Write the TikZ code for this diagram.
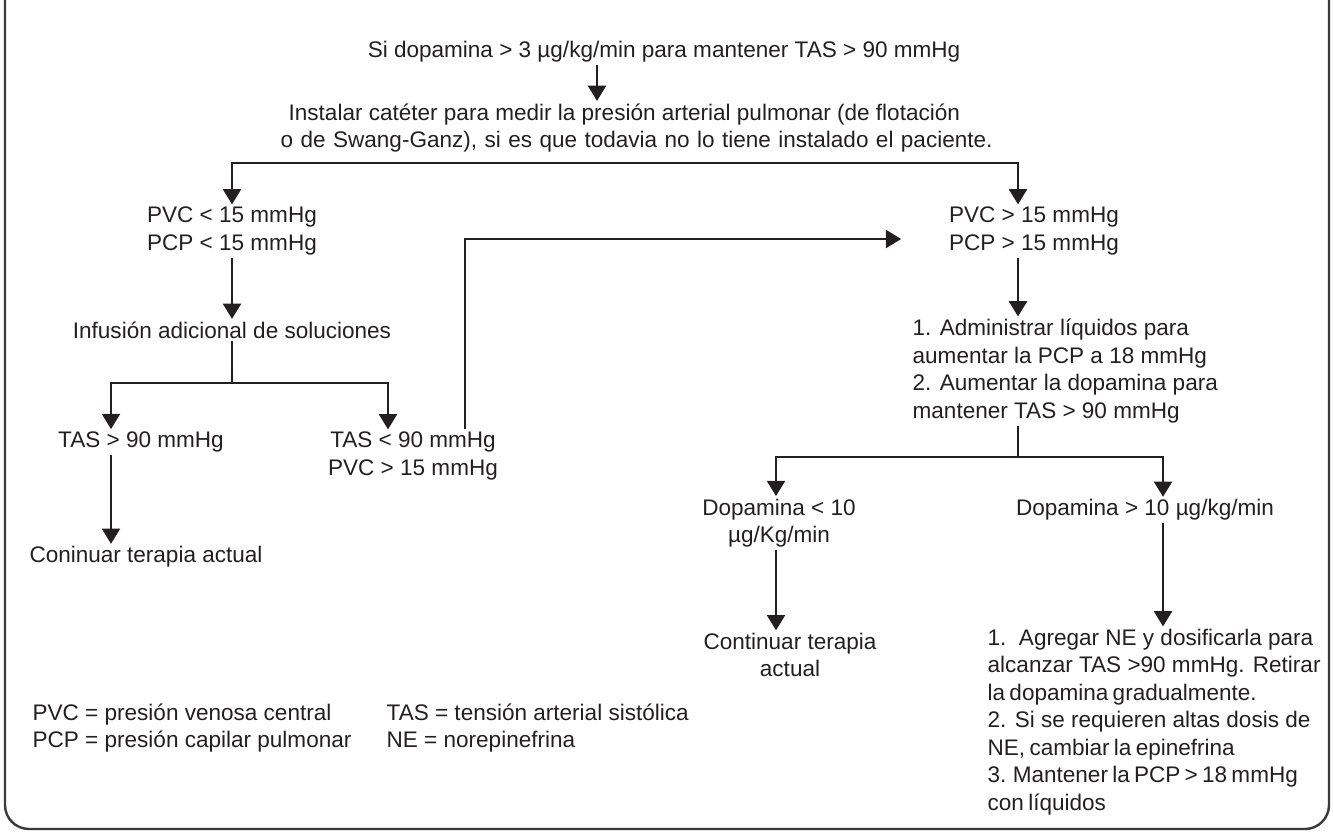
\documentclass[tikz,border=0pt]{standalone}
\usepackage{fontspec}
\setmainfont{Liberation Sans}
\usetikzlibrary{arrows.meta}
\definecolor{ink}{HTML}{231F20}
\definecolor{rimgray}{HTML}{3A3A3A}
% word spacing adjustments for single lines
\newcommand\snug{\spaceskip=0.19em\relax}
\newcommand\roomy{\spaceskip=0.33em\relax}

\begin{document}
\begin{tikzpicture}[x=0.75pt,y=-0.75pt,
  txt/.style={inner sep=0pt,outer sep=2pt,text=ink,font=\fontsize{16.9}{20.6}\selectfont},
  ctr/.style={txt,align=center},
  lft/.style={txt,align=left},
  link/.style={draw=ink,line width=1.9pt,line join=miter},
  arr/.style={link,-{Triangle[width=13.5pt,length=11.5pt]}},
  dbl/.style={link,{Triangle[width=13.5pt,length=11.5pt]}-{Triangle[width=13.5pt,length=11.5pt]}},
  rim/.style={draw=rimgray,line width=1.8pt,rounded corners=18pt}]

\useasboundingbox (0,0) rectangle (1333,833);

% frame, open at the top
\draw[rim] (5,-20) -- (5,829) -- (1329,829) -- (1329,-20);

% ---- text blocks ----
\node[ctr] (top) at (664,52) {Si dopamina > 3 µg/kg/min para mantener TAS > 90 mmHg};
\node[lft,anchor=west] (cat) at (278,128)
  {\hspace*{6pt}Instalar catéter para medir la presión arterial pulmonar (de flotación\\
   {\roomy o de Swang-Ganz), si es que todavia no lo tiene instalado el paciente.}};

\node[ctr] (pvcL) at (232,231) {PVC < 15 mmHg\\PCP < 15 mmHg};
\node[ctr] (pvcR) at (1034,231) {PVC > 15 mmHg\\PCP > 15 mmHg};

\node[ctr] (inf) at (232,330) {Infusión adicional de soluciones};
\node[ctr] (tasA) at (141,442) {TAS > 90 mmHg};
\node[ctr] (conA) at (146,557) {Coninuar terapia actual};
\node[ctr] (tasB) at (413,456) {TAS < 90 mmHg\\PVC > 15 mmHg};

\node[lft,anchor=west] (adm) at (910,371)
  {1. Administrar líquidos para\\aumentar la PCP a 18 mmHg\\2. Aumentar la dopamina para\\mantener TAS > 90 mmHg};

\node[ctr] (dopA) at (779,523) {Dopamina < 10\\µg/Kg/min};
\node[ctr] (dopB) at (1145,510) {Dopamina > 10 µg/kg/min};
\node[ctr] (conB) at (790,655) {Continuar terapia\\actual};

\node[lft,anchor=west] (ne) at (985,722)
  {1.\ \ Agregar NE y dosificarla para\\
   alcanzar TAS >90 mmHg. Retirar\\
   {\snug la dopamina gradualmente.}\\
   2. Si se requieren altas dosis de\\
   {\snug NE, cambiar la epinefrina}\\
   {\snug 3. Mantener la PCP > 18 mmHg}\\
   {\snug con líquidos}};

\node[lft,anchor=west] (legA) at (30,728) {PVC = presión venosa central\\PCP = presión capilar pulmonar};
\node[lft,anchor=west] (legB) at (384,728) {TAS = tensión arterial sistólica\\NE = norepinefrina};

% ---- connector waypoints ----
\coordinate (xa) at (597,0);
\coordinate (barL) at (232,163);
\coordinate (barR) at (1018,163);
\coordinate (forkA) at (232,383);
\coordinate (forkAL) at (111,383);
\coordinate (forkAR) at (388,383);
\coordinate (loop) at (465,239);
\coordinate (forkB) at (1018,457);
\coordinate (forkBL) at (776,457);
\coordinate (forkBR) at (1163,457);

% ---- connectors ----
\draw[arr] (top.south -| xa) -- (cat.north -| xa);
\draw[dbl] (pvcL.north -| barL) -- (barL) -- (barR) -- (pvcR.north -| barR);

\draw[arr] (pvcL.south) -- (inf.north);
\draw[link] (inf.south) -- (forkA);
\draw[dbl] (tasA.north -| forkAL) -- (forkAL) -- (forkAR) -- (tasB.north -| forkAR);
\draw[arr] (tasA.south -| forkAL) -- (conA.north -| forkAL);
\draw[arr,shorten >=34pt] (tasB.north -| loop) -- (loop) -- (pvcR.west |- loop);

\draw[arr] (pvcR.south -| barR) -- (adm.north -| barR);
\draw[link] (adm.south -| forkB) -- (forkB);
\draw[dbl] (dopA.north -| forkBL) -- (forkBL) -- (forkBR) -- (dopB.north -| forkBR);
\draw[arr] (dopA.south -| forkBL) -- (conB.north -| forkBL);
\draw[arr] (dopB.south -| forkBR) -- (ne.north -| forkBR);
\end{tikzpicture}
\end{document}
